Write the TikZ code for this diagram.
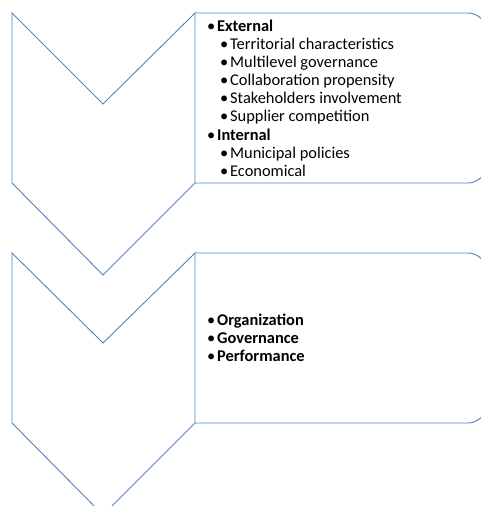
\documentclass[tikz,border=0pt]{standalone}
\usepackage{fontspec}
\setmainfont{Carlito}
\definecolor{chevblue}{RGB}{79,129,189}
\newcommand{\bulletline}[1]{\makebox[10pt][l]{•}#1}
\tikzset{outline/.style={draw=chevblue, line width=0.9pt, line join=miter},
  item/.style={anchor=base west, inner sep=0pt, font=\fontsize{16.4}{18}\selectfont}}

\begin{document}
\begin{tikzpicture}[x=1pt,y=-1pt]
\useasboundingbox (0,0) rectangle (481,506);
\clip (0,0) rectangle (481,506);
% first chevron
\coordinate (a1) at (12,13) ;
\coordinate (a2) at (103,104) ;
\coordinate (a3) at (195,13) ;
\coordinate (a4) at (195,183) ;
\coordinate (a5) at (103,275) ;
\coordinate (a6) at (12,183) ;
\draw[outline] (a1) -- (a2) -- (a3) -- (a4) -- (a5) -- (a6) -- cycle ;
\draw[outline, rounded corners=18pt] (a3) -- (486,13) -- (486,183) -- (a4) ;
% second chevron
\coordinate (b1) at (12,253) ;
\coordinate (b2) at (103,343) ;
\coordinate (b3) at (195,253) ;
\coordinate (b4) at (195,423) ;
\coordinate (b5) at (103,515) ;
\coordinate (b6) at (12,423) ;
\draw[outline] (b1) -- (b2) -- (b3) -- (b4) -- (b5) -- (b6) -- cycle ;
\draw[outline, rounded corners=18pt] (b3) -- (486,253) -- (486,423) -- (b4) ;
% first list
\node[item] (ext) at (207,31) {\bulletline{\textbf{External}}} ;
\node[item] (ext1) at (220,49) {\bulletline{Territorial characteristics}} ;
\node[item] (ext2) at (220,67) {\bulletline{Multilevel governance}} ;
\node[item] (ext3) at (220,85.5) {\bulletline{Collaboration propensity}} ;
\node[item] (ext4) at (220,103.5) {\bulletline{Stakeholders involvement}} ;
\node[item] (ext5) at (220,121.5) {\bulletline{Supplier competition}} ;
\node[item] (int) at (207,140) {\bulletline{\textbf{Internal}}} ;
\node[item] (int1) at (220,158) {\bulletline{Municipal policies}} ;
\node[item] (int2) at (220,176.5) {\bulletline{Economical}} ;
% second list
\node[item] (org) at (207,325) {\bulletline{\textbf{Organization}}} ;
\node[item] (gov) at (207,343) {\bulletline{\textbf{Governance}}} ;
\node[item] (perf) at (207,361) {\bulletline{\textbf{Performance}}} ;
\end{tikzpicture}
\end{document}
